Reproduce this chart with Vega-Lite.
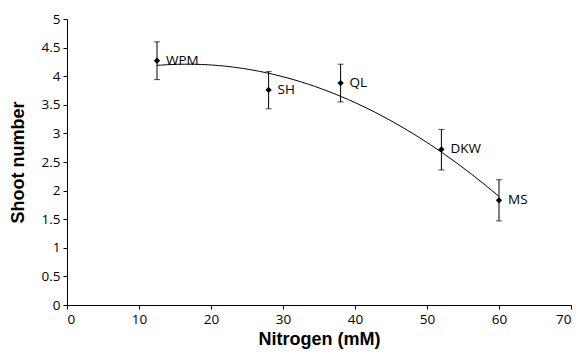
{
  "$schema": "https://vega.github.io/schema/vega-lite/v6.json",
  "width": 504,
  "height": 286,
  "autosize": "none",
  "padding": {"left": 67, "top": 19, "right": 12, "bottom": 51},
  "background": "white",
  "config": {
    "view": {"stroke": null},
    "axis": {
      "grid": false,
      "domainColor": "black",
      "tickColor": "black",
      "labelColor": "black",
      "titleColor": "black",
      "labelFont": "Open Sans",
      "labelFontSize": 13.5,
      "titleFont": "Liberation Sans",
      "titleFontSize": 18,
      "titleFontWeight": "bold",
      "tickSize": 4
    }
  },
  "data": {
    "values": [
      {"medium": "WPM", "nitrogen": 12.5, "shoots": 4.27, "lo": 3.94, "hi": 4.6},
      {"medium": "SH", "nitrogen": 28, "shoots": 3.76, "lo": 3.43, "hi": 4.08},
      {"medium": "QL", "nitrogen": 38, "shoots": 3.88, "lo": 3.55, "hi": 4.21},
      {"medium": "DKW", "nitrogen": 52, "shoots": 2.72, "lo": 2.36, "hi": 3.07},
      {"medium": "MS", "nitrogen": 60, "shoots": 1.83, "lo": 1.47, "hi": 2.19}
    ]
  },
  "encoding": {
    "x": {
      "field": "nitrogen", "type": "quantitative",
      "scale": {"domain": [0, 70], "nice": false},
      "axis": {"values": [0, 10, 20, 30, 40, 50, 60, 70], "format": "d", "title": "Nitrogen (mM)", "titlePadding": 5, "labelPadding": 3}
    },
    "y": {
      "field": "shoots", "type": "quantitative",
      "scale": {"domain": [0, 5], "nice": false},
      "axis": {"values": [0, 0.5, 1, 1.5, 2, 2.5, 3, 3.5, 4, 4.5, 5], "format": "~g", "title": "Shoot number", "titlePadding": 14, "labelPadding": 3}
    }
  },
  "layer": [
    {
      "transform": [
        {"regression": "shoots", "on": "nitrogen", "method": "poly", "order": 2, "extent": [12.5, 60]}
      ],
      "mark": {"type": "line", "color": "black", "strokeWidth": 1}
    },
    {
      "mark": {"type": "rule", "color": "black", "strokeWidth": 1},
      "encoding": {"y": {"field": "lo", "type": "quantitative"}, "y2": {"field": "hi"}}
    },
    {
      "mark": {"type": "tick", "color": "black", "orient": "horizontal", "size": 6, "thickness": 1},
      "encoding": {"y": {"field": "lo", "type": "quantitative"}}
    },
    {
      "mark": {"type": "tick", "color": "black", "orient": "horizontal", "size": 6, "thickness": 1},
      "encoding": {"y": {"field": "hi", "type": "quantitative"}}
    },
    {
      "mark": {"type": "point", "shape": "diamond", "filled": true, "color": "black", "size": 40, "opacity": 1}
    },
    {
      "mark": {"type": "text", "align": "left", "baseline": "middle", "dx": 9, "font": "Open Sans", "fontSize": 13.5, "color": "black"},
      "encoding": {"text": {"field": "medium"}}
    }
  ]
}
